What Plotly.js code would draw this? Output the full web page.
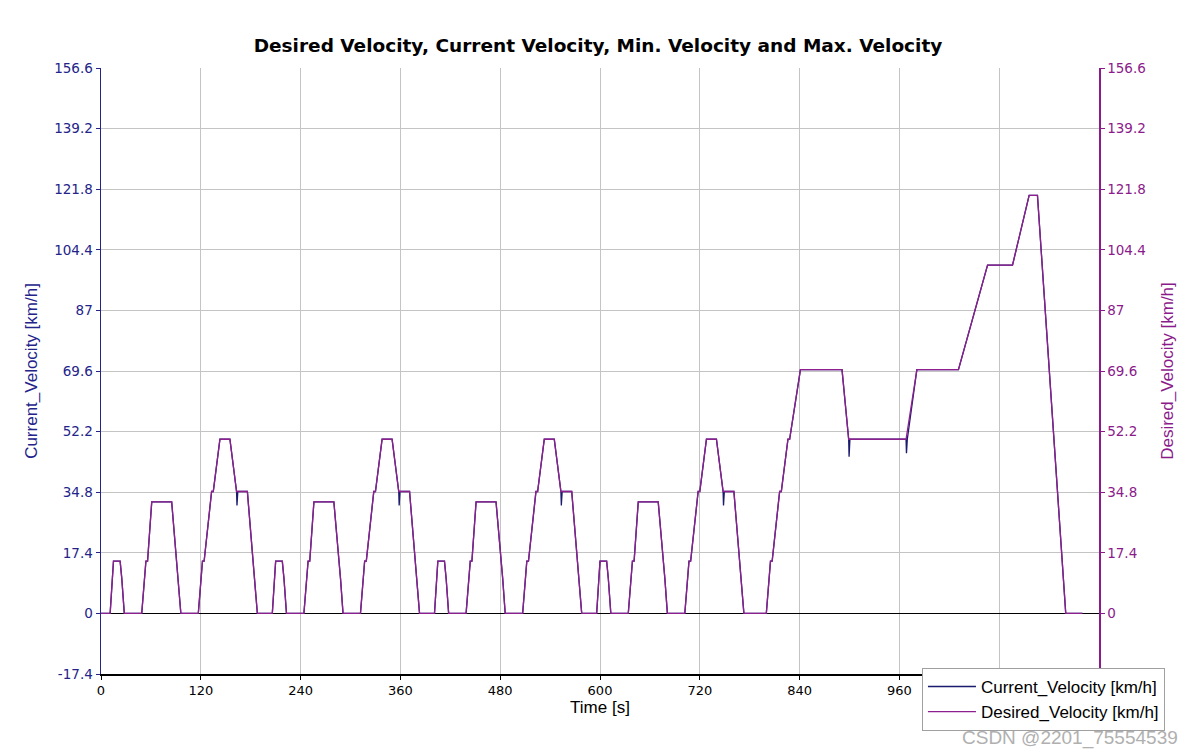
<!DOCTYPE html>
<html>
<head>
<meta charset="utf-8">
<script src="https://cdn.plot.ly/plotly-3.0.1.min.js"></script>
<style>html,body{margin:0;padding:0;background:#fff;}#chart{width:1196px;height:755px;}</style>
</head>
<body>
<div id="chart"></div>
<script>
// Desired velocity breakpoints (NEDC: 4x ECE-15 + EUDC)
var desiredTime = [
  0, 11, 15, 23, 25, 28, 49, 54, 56, 61, 85, 93, 96, 117, 122, 124, 133, 135, 143, 155, 163, 176, 185, 188,
  206, 210, 218, 220, 223, 244, 249, 251, 256, 280, 288, 291, 312, 317, 319, 328, 330, 338, 350, 358, 371, 380, 383,
  401, 405, 413, 415, 418, 439, 444, 446, 451, 475, 483, 486, 507, 512, 514, 523, 525, 533, 545, 553, 566, 575, 578,
  596, 600, 608, 610, 613, 634, 639, 641, 646, 670, 678, 681, 702, 707, 709, 718, 720, 728, 740, 748, 761, 770, 773,
  800, 805, 807, 816, 818, 826, 828, 841, 891, 899, 968, 981, 1031, 1066, 1096, 1116, 1126, 1160, 1180
];
var desiredSpeed = [
  0, 0, 15, 15, 10, 0, 0, 15, 15, 32, 32, 10, 0, 0, 15, 15, 35, 35, 50, 50, 35, 35, 10, 0,
  0, 15, 15, 10, 0, 0, 15, 15, 32, 32, 10, 0, 0, 15, 15, 35, 35, 50, 50, 35, 35, 10, 0,
  0, 15, 15, 10, 0, 0, 15, 15, 32, 32, 10, 0, 0, 15, 15, 35, 35, 50, 50, 35, 35, 10, 0,
  0, 15, 15, 10, 0, 0, 15, 15, 32, 32, 10, 0, 0, 15, 15, 35, 35, 50, 50, 35, 35, 10, 0,
  0, 15, 15, 35, 35, 50, 50, 70, 70, 50, 50, 70, 70, 100, 100, 120, 120, 0, 0
];
// Current velocity: follows desired, with short dips after decelerations
var currentTime = [
  0, 11, 15, 23, 25, 28, 49, 54, 56, 61, 85, 93, 96, 117, 122, 124, 133, 135, 143, 155, 163, 163.5, 164.5, 176, 185, 188,
  206, 210, 218, 220, 223, 244, 249, 251, 256, 280, 288, 291, 312, 317, 319, 328, 330, 338, 350, 358, 358.5, 359.5, 371, 380, 383,
  401, 405, 413, 415, 418, 439, 444, 446, 451, 475, 483, 486, 507, 512, 514, 523, 525, 533, 545, 553, 553.5, 554.5, 566, 575, 578,
  596, 600, 608, 610, 613, 634, 639, 641, 646, 670, 678, 681, 702, 707, 709, 718, 720, 728, 740, 748, 748.5, 749.5, 761, 770, 773,
  800, 805, 807, 816, 818, 826, 828, 841, 891, 899, 899.5, 900.5, 968, 968.5, 969.5, 981, 1031, 1066, 1096, 1116, 1126, 1160, 1180
];
var currentSpeed = [
  0, 0, 15, 15, 10, 0, 0, 15, 15, 32, 32, 10, 0, 0, 15, 15, 35, 35, 50, 50, 35, 31, 35, 35, 10, 0,
  0, 15, 15, 10, 0, 0, 15, 15, 32, 32, 10, 0, 0, 15, 15, 35, 35, 50, 50, 35, 31, 35, 35, 10, 0,
  0, 15, 15, 10, 0, 0, 15, 15, 32, 32, 10, 0, 0, 15, 15, 35, 35, 50, 50, 35, 31, 35, 35, 10, 0,
  0, 15, 15, 10, 0, 0, 15, 15, 32, 32, 10, 0, 0, 15, 15, 35, 35, 50, 50, 35, 31, 35, 35, 10, 0,
  0, 15, 15, 35, 35, 50, 50, 70, 70, 50, 45, 50, 50, 46, 50, 70, 70, 100, 100, 120, 120, 0, 0
];
var yTickVals = [-17.4, 0, 17.4, 34.8, 52.2, 69.6, 87, 104.4, 121.8, 139.2, 156.6];
var yTickText = ["-17.4", "0", "17.4", "34.8", "52.2", "69.6", "87", "104.4", "121.8", "139.2", "156.6"];
var xTickVals = [0, 120, 240, 360, 480, 600, 720, 840, 960, 1080];
var xTickText = ["0", "120", "240", "360", "480", "600", "720", "840", "960", "1080"];

var navy = "#1a1a6e";
var purple = "#8e1f8e";
var labelNavy = "#23238a";
var labelPurple = "#8b1a8b";

var traces = [
  {x: currentTime, y: currentSpeed, type: "scatter", mode: "lines", name: "Current_Velocity [km/h]",
   line: {color: navy, width: 1.3}, yaxis: "y"},
  {x: desiredTime, y: desiredSpeed, type: "scatter", mode: "lines", name: "Desired_Velocity [km/h]",
   line: {color: purple, width: 1.3}, yaxis: "y2"}
];

var layout = {
  width: 1196, height: 755,
  margin: {l: 101, r: 97, t: 68, b: 81},
  paper_bgcolor: "#ffffff", plot_bgcolor: "#ffffff",
  showlegend: true,
  title: {text: "<b>Desired Velocity, Current Velocity, Min. Velocity and Max. Velocity</b>",
          font: {family: "DejaVu Sans", size: 18.5, color: "#000"}, x: 0.5, xanchor: "center", y: 0.94, yanchor: "middle"},
  xaxis: {
    range: [0, 1200], tickvals: xTickVals, ticktext: xTickText,
    showgrid: true, gridcolor: "#c4c4c4", gridwidth: 1,
    showline: true, linecolor: "#000", linewidth: 1.5,
    ticks: "outside", ticklen: 4, tickcolor: "#000",
    tickfont: {family: "DejaVu Sans", size: 13, color: "#000"},
    zeroline: false,
    title: {text: "Time [s]", font: {family: "Liberation Sans", size: 17, color: "#000"}, standoff: 4}
  },
  yaxis: {
    range: [-17.4, 156.6], tickvals: yTickVals, ticktext: yTickText,
    showgrid: true, gridcolor: "#c4c4c4", gridwidth: 1,
    showline: true, linecolor: labelNavy, linewidth: 1.5,
    ticks: "outside", ticklen: 4, tickcolor: labelNavy,
    tickfont: {family: "DejaVu Sans", size: 13.5, color: labelNavy},
    zeroline: true, zerolinecolor: "#000", zerolinewidth: 1.5,
    title: {text: "Current_Velocity [km/h]", font: {family: "Liberation Sans", size: 17, color: labelNavy}, standoff: 12}
  },
  yaxis2: {
    range: [-17.4, 156.6], tickvals: yTickVals, ticktext: yTickText,
    overlaying: "y", side: "right", anchor: "x",
    showgrid: false, zeroline: false,
    showline: true, linecolor: labelPurple, linewidth: 1.5,
    ticks: "outside", ticklen: 4, tickcolor: labelPurple,
    tickfont: {family: "DejaVu Sans", size: 13.5, color: labelPurple},
    title: {text: "Desired_Velocity [km/h]", font: {family: "Liberation Sans", size: 17, color: labelPurple}, standoff: 16}
  },
  legend: {
    x: 0.8226, y: 0.01, xanchor: "left", yanchor: "top",
    bgcolor: "#ffffff", bordercolor: "#a0a0a0", borderwidth: 1,
    font: {family: "Liberation Sans", size: 17, color: "#000"},
    itemwidth: 48, tracegroupgap: 0
  },
  annotations: [
    {text: "CSDN @2201_75554539", xref: "paper", yref: "paper", x: 1.081, y: -0.105,
     xanchor: "right", yanchor: "middle", showarrow: false,
     font: {family: "Liberation Sans", size: 19, color: "#b0b0b0"}}
  ]
};

Plotly.newPlot("chart", traces, layout, {displayModeBar: false, staticPlot: true});
</script>
</body>
</html>
